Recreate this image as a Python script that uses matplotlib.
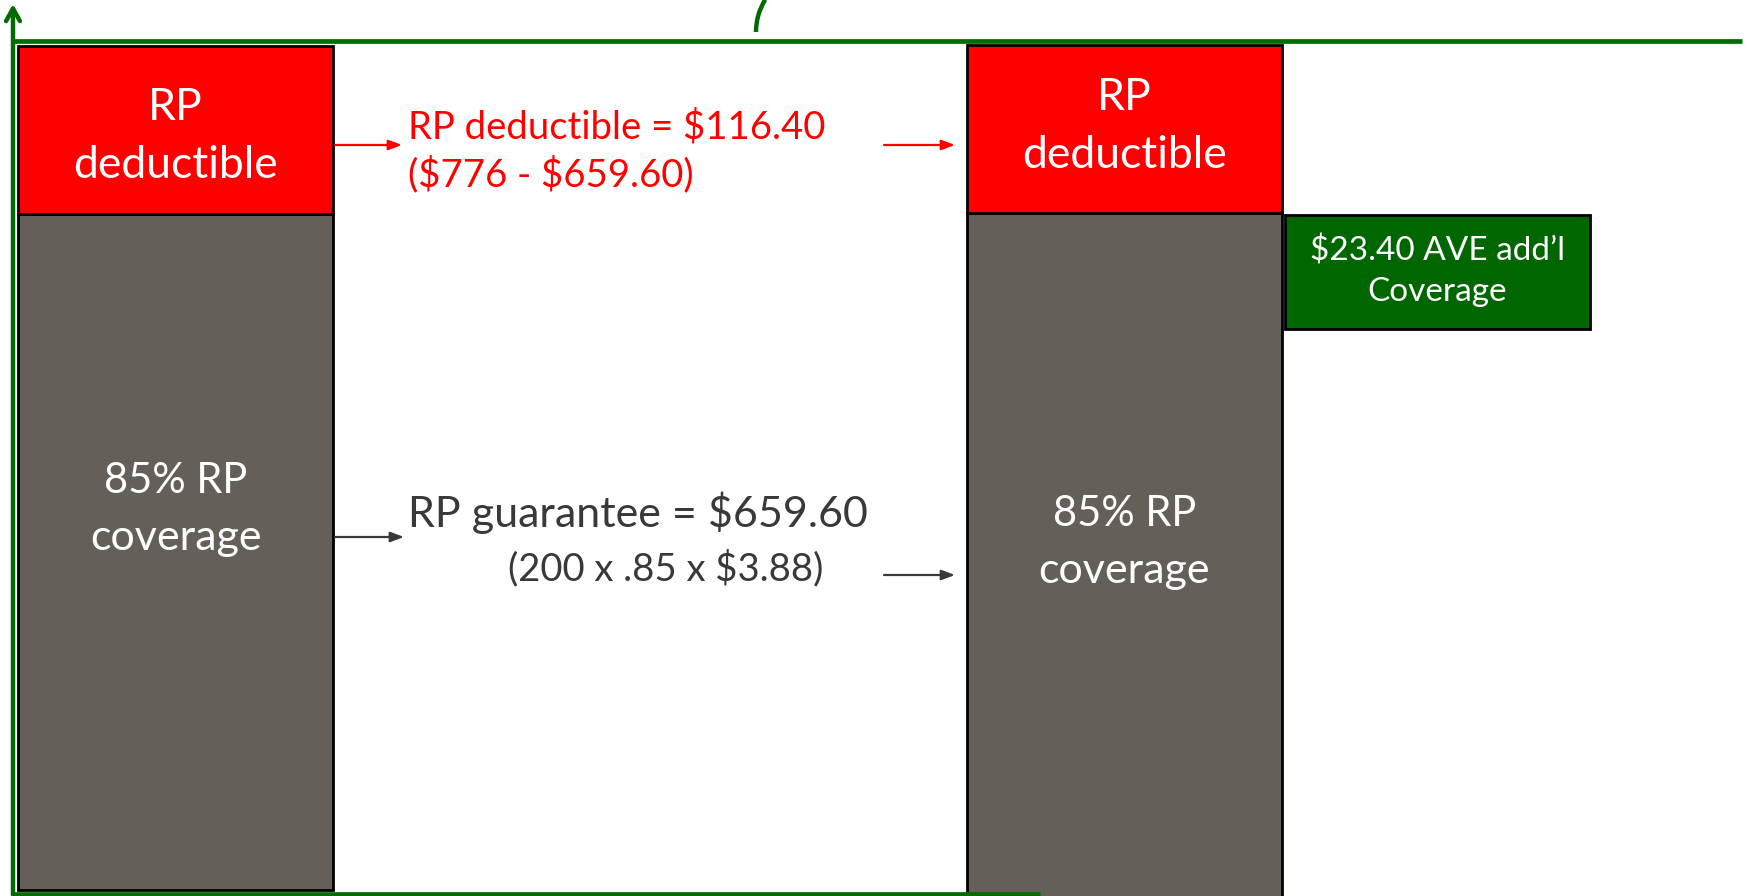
import matplotlib
matplotlib.use("Agg")
import matplotlib.pyplot as plt
from matplotlib.patches import Arc

plt.rcParams["text.parse_math"] = False

# ---- data (segment heights in picture units; bars are schematic) ----
bar_names = ["Base RP", "RP + AVE"]
bar_x = [175.5, 1124.5]
bar_width = 315
bar_bottom = [6, -14]
coverage_heights = [676, 697]
deductible_heights = [168, 168]
coverage_labels = [["85% RP", "coverage"], ["85% RP", "coverage"]]
deductible_labels = [["RP", "deductible"], ["RP", "deductible"]]

ave_x = [1437.5]
ave_width = 305
ave_bottom = [567]
ave_heights = [114]
ave_label = ["$23.40 AVE add\u2019l", "Coverage"]

ded_note = ["RP deductible = $116.40", "($776 - $659.60)"]
guar_note = ["RP guarantee = $659.60", "(200 x .85 x $3.88)"]

RED = "#FF0000"
GRAY = "#646059"
DGREEN = "#006600"
AXGREEN = "#006B00"
TXTGRAY = "#3B3838"
FONT = ["Lato", "DejaVu Sans"]
H = 896

fig = plt.figure(figsize=(17.48, 8.96), dpi=100)
ax = fig.add_axes([0, 0, 1, 1])
ax.set_xlim(0, 1748)
ax.set_ylim(0, H)
ax.axis("off")

# bars
ax.bar(bar_x, coverage_heights, width=bar_width, bottom=bar_bottom,
       color=GRAY, edgecolor="black", linewidth=2, zorder=2)
ded_bottom = [b + c for b, c in zip(bar_bottom, coverage_heights)]
ax.bar(bar_x, deductible_heights, width=bar_width, bottom=ded_bottom,
       color=RED, edgecolor="black", linewidth=2, zorder=2)
ax.bar(ave_x, ave_heights, width=ave_width, bottom=ave_bottom,
       color=DGREEN, edgecolor="black", linewidth=2, zorder=2)

# bar labels (baselines in pixel rows)
def lines(x, texts, baselines, sizes, color, ha="center"):
    for t, b, s in zip(texts, baselines, sizes):
        ax.text(x, H - b, t, ha=ha, va="baseline", color=color,
                fontsize=s, family=FONT, zorder=3)

cov_base = [[493, 550], [526, 583]]
ded_base = [[120, 178], [110, 168]]
for x, lab, bl in zip(bar_x, coverage_labels, cov_base):
    lines(x, lab, bl, [30, 31], "white")
for x, lab, bl in zip(bar_x, deductible_labels, ded_base):
    lines(x, lab, bl, [32, 32], "white")
lines(ave_x[0], ave_label, [260, 301], [24, 24], "white")

# notes
lines(408, ded_note, [138, 186], [27.5, 27.5], RED, ha="left")
lines(408, guar_note[:1], [527], [31], TXTGRAY, ha="left")
lines(666, guar_note[1:], [580], [27.5], TXTGRAY)

# arrows
def arrow(x0, x1, y, c):
    ax.annotate("", xy=(x1, H - y), xytext=(x0, H - y),
                arrowprops=dict(arrowstyle="-|>,head_length=0.8,head_width=0.3",
                                color=c, lw=1.6, shrinkA=0, shrinkB=0))

arrow(335, 402, 145, RED)
arrow(884, 955, 145, RED)
arrow(335, 404, 537, TXTGRAY)
arrow(884, 955, 575, TXTGRAY)

# green frame / axes
ax.annotate("", xy=(13, H - 4), xytext=(13, H - 895),
            arrowprops=dict(arrowstyle="->,head_length=0.9,head_width=0.5",
                            color=AXGREEN, lw=3.2, shrinkA=0, shrinkB=0))
ax.plot([13, 1742], [H - 41, H - 41], color=AXGREEN, lw=3.4,
        solid_capstyle="butt")
ax.plot([13, 1040], [H - 894, H - 894], color=AXGREEN, lw=3.4,
        solid_capstyle="butt")
ax.add_patch(Arc((817, H - 32), 122, 122, theta1=148, theta2=180,
                 color=AXGREEN, lw=3.2))

fig.savefig("out.png", dpi=100)
